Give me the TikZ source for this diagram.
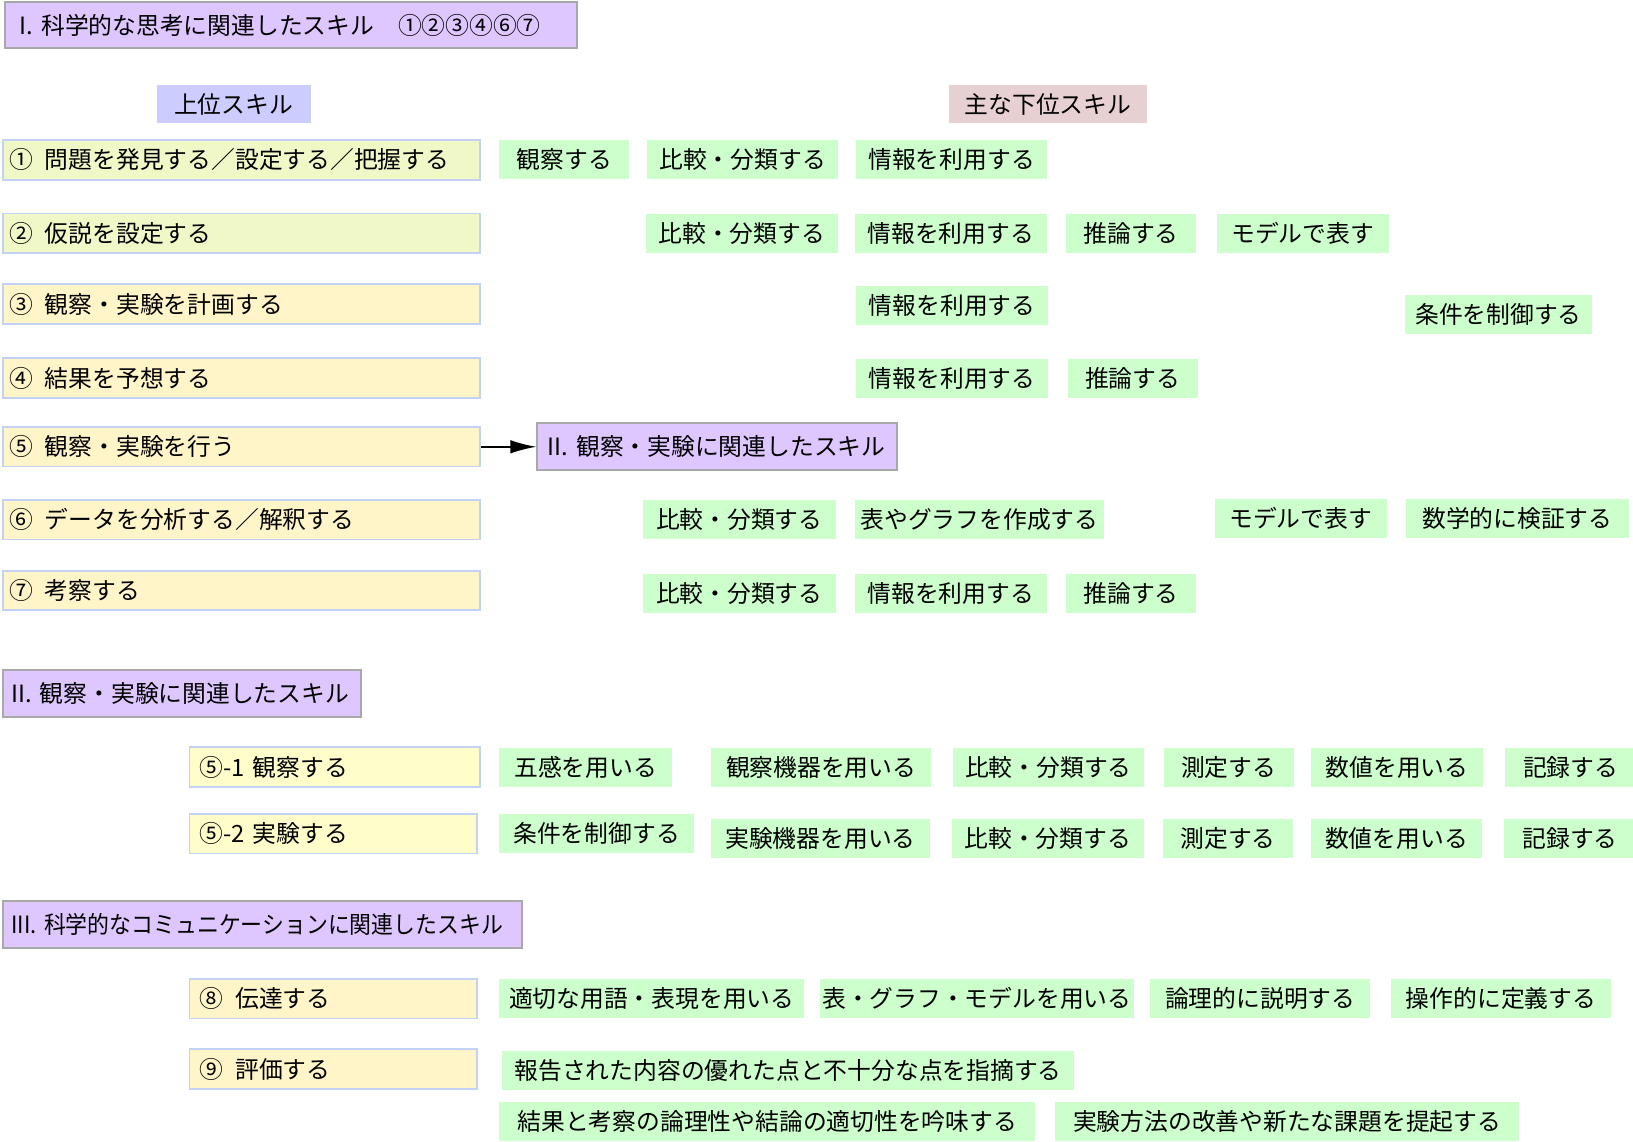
\documentclass[tikz,border=0pt]{standalone}
\usepackage{fontspec}
\usepackage{graphicx}
\setmainfont{Noto Sans CJK JP}
\usetikzlibrary{positioning,arrows.meta}

\definecolor{titrefond}{HTML}{DEC6FF}
\definecolor{titretrait}{HTML}{A8A8A8}
\definecolor{supfond}{HTML}{CCCCFF}
\definecolor{inffond}{HTML}{E6D0D2}
\definecolor{hautA}{HTML}{F1F8C8}
\definecolor{hautB}{HTML}{FFF5C8}
\definecolor{hautC}{HTML}{FFFDCA}
\definecolor{hauttrait}{HTML}{C2D2F4}
\definecolor{sousfond}{HTML}{CCFFCC}

\begin{document}
\begin{tikzpicture}[x=0.02cm, y=-0.02cm,
font=\fontsize{13}{15}\selectfont,
titre/.style={rectangle, draw=titretrait, fill=titrefond, line width=1.1pt, minimum height=0.9cm, anchor=west, align=left, inner xsep=0.16cm, text width=#1},
entete/.style={rectangle, fill=#1, minimum height=0.72cm, anchor=west, inner sep=0pt},
haut/.style={rectangle, draw=hauttrait, fill=hautB, line width=1pt, minimum height=0.76cm, anchor=west, align=left, inner xsep=0.12cm, text width=8.92cm},
sous/.style={rectangle, fill=sousfond, minimum height=0.75cm, minimum width=#1, anchor=west, inner sep=0pt},
]
    % Cadre
    \useasboundingbox (0,0) rectangle (1568,1096);

    % Titres
    \node [titre=10.42cm, inner xsep=0.28cm] (titre1) at (4,24) {I. 科学的な思考に関連したスキル　①②③④⑥⑦};
    \node [entete=supfond, minimum width=2.96cm] (sup) at (150,100) {上位スキル};
    \node [entete=inffond, minimum width=3.8cm] (inf) at (911,100) {主な下位スキル};

    % Définition des blocs (I)
    \node [haut, fill=hautA] (u1) at (2,153.5) {①\enspace 問題を発見する／設定する／把握する};
    \node [haut, fill=hautA] (u2) at (2,224) {②\enspace 仮説を設定する};
    \node [haut] (u3) at (2,292) {③\enspace 観察・実験を計画する};
    \node [haut] (u4) at (2,363) {④\enspace 結果を予想する};
    \node [haut] (u5) at (2,429) {⑤\enspace 観察・実験を行う};
    \node [haut] (u6) at (2,499) {⑥\enspace データを分析する／解釈する};
    \node [haut] (u7) at (2,567) {⑦\enspace 考察する};

    \node [sous=2.5cm] (obs1) at (479,153.5) {観察する};
    \node [sous=3.68cm, right=0.32cm of obs1] (comp1) {比較・分類する};
    \node [sous=3.68cm, right=0.32cm of comp1] (info1) {情報を利用する};

    \node [sous=3.68cm] (comp2) at (620,224) {比較・分類する};
    \node [sous=3.68cm, right=0.32cm of comp2] (info2) {情報を利用する};
    \node [sous=2.5cm, right=0.36cm of info2] (rais2) {推論する};
    \node [sous=3.3cm, right=0.38cm of rais2] (mod2) {モデルで表す};

    \node [sous=3.68cm] (info3) at (822,293.5) {情報を利用する};
    \node [sous=3.58cm] (cond3) at (1349,302) {条件を制御する};

    \node [sous=3.68cm] (info4) at (822,363) {情報を利用する};
    \node [sous=2.5cm, right=0.36cm of info4] (rais4) {推論する};

    \node [titre=6.5cm, inner xsep=0.2cm] (titre2a) at (515,429) {II. 観察・実験に関連したスキル};

    \node [sous=3.7cm] (comp6) at (617,499) {比較・分類する};
    \node [sous=4.78cm, right=0.36cm of comp6] (graph6) {表やグラフを作成する};
    \node [sous=3.3cm] (mod6) at (1166,497.5) {モデルで表す};
    \node [sous=4.28cm, right=0.36cm of mod6] (math6) {数学的に検証する};

    \node [sous=3.7cm] (comp7) at (617,570) {比較・分類する};
    \node [sous=3.68cm, right=0.36cm of comp7] (info7) {情報を利用する};
    \node [sous=2.5cm, right=0.36cm of info7] (rais7) {推論する};

    % Définition des blocs (II)
    \node [titre=6.56cm] (titre2) at (2,666) {II. 観察・実験に関連したスキル};
    \node [haut, fill=hautC, text width=5.34cm] (u51) at (181,736.5) {\,⑤-1 観察する};
    \node [haut, fill=hautC, text width=5.28cm] (u52) at (181,800.5) {\,⑤-2 実験する};

    \node [sous=3.32cm] (sens51) at (479,736.5) {五感を用いる};
    \node [sous=4.22cm, right=0.74cm of sens51] (appa51) {観察機器を用いる};
    \node [sous=3.68cm, right=0.4cm of appa51] (comp51) {比較・分類する};
    \node [sous=2.5cm, right=0.36cm of comp51] (mes51) {測定する};
    \node [sous=3.3cm, right=0.32cm of mes51] (num51) {数値を用いる};
    \node [sous=2.54cm, right=0.4cm of num51] (note51) {記録する};

    \node [sous=3.74cm] (cond52) at (479,800.5) {条件を制御する};
    \node [sous=4.22cm] (appa52) at (682,805) {実験機器を用いる};
    \node [sous=3.68cm, right=0.4cm of appa52] (comp52) {比較・分類する};
    \node [sous=2.5cm, right=0.36cm of comp52] (mes52) {測定する};
    \node [sous=3.3cm, right=0.32cm of mes52] (num52) {数値を用いる};
    \node [sous=2.54cm, right=0.4cm of num52] (note52) {記録する};

    % Définition des blocs (III)
    \node [titre=9.64cm] (titre3) at (2,888) {\scalebox{0.92}[1]{III. 科学的なコミュニケーションに関連したスキル}};
    \node [haut, text width=5.28cm] (u8) at (181,959) {\,⑧\enspace 伝達する};
    \node [haut, text width=5.28cm] (u9) at (181,1026.5) {\,⑨\enspace 評価する};

    \node [sous=5.86cm] (mot8) at (479,959) {適切な用語・表現を用いる};
    \node [sous=6.04cm, right=0.28cm of mot8] (tab8) {表・グラフ・モデルを用いる};
    \node [sous=4.22cm, right=0.3cm of tab8] (log8) {論理的に説明する};
    \node [sous=4.24cm, right=0.38cm of log8] (def8) {操作的に定義する};

    \node [sous=10.98cm] (rap9) at (482,1027.5) {報告された内容の優れた点と不十分な点を指摘する};
    \node [sous=10.3cm] (exa9) at (479,1077) {結果と考察の論理性や結論の適切性を吟味する};
    \node [sous=8.92cm, right=0.36cm of exa9] (meth9) {実験方法の改善や新たな課題を提起する};

    % Définition des liens
    \draw [-{Latex[length=0.5cm,width=0.26cm]}, line width=0.9pt] (u5) -- (titre2a);
\end{tikzpicture}
\end{document}
